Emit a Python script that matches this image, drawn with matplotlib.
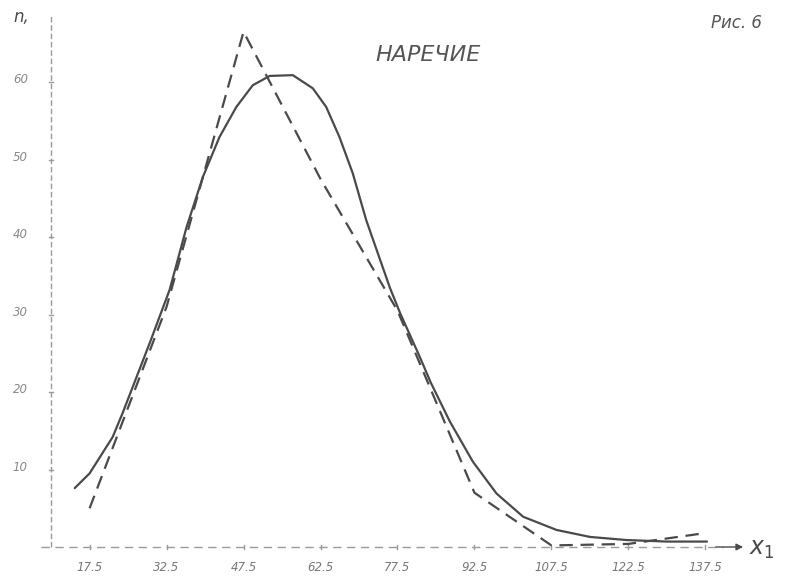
import numpy as np
import matplotlib.pyplot as plt

# theoretical (smooth) curve
curve_x = [14.6, 17.5, 22.0, 24.0, 29.2, 33.1, 36.4, 39.6, 42.8, 46.1, 49.3,
           52.6, 57.1, 61.0, 63.6, 66.2, 68.8, 71.4, 76.0, 78.0, 81.8, 84.0,
           87.7, 92.2, 96.8, 102.0, 108.5, 115.0, 122.1, 130.0, 137.8]
curve_n = [7.6, 9.5, 14.2, 17.4, 26.3, 33.2, 41.3, 47.8, 52.9, 56.8, 59.6,
           60.8, 60.9, 59.2, 56.8, 52.9, 48.2, 42.2, 33.5, 30.2, 24.6, 21.2,
           16.2, 11.0, 6.9, 3.9, 2.2, 1.3, 0.9, 0.7, 0.7]

# empirical polygon (dashed)
mids = [17.5, 32.5, 47.5, 62.5, 77.5, 92.5, 107.5, 122.5, 137.5]
freq = [5, 31, 66.5, 47.5, 30.5, 7, 0.2, 0.4, 1.8]

xtick_labels = ["17.5", "32.5", "47.5", "62.5", "77.5", "92.5", "107.5", "122.5", "137.5"]
yticks = [10, 20, 30, 40, 50, 60]

ink = "#4a4a4a"
faint = "#9a9a9a"

fig = plt.figure(figsize=(7.88, 5.80), dpi=100)
ax = fig.add_axes([0, 0, 1, 1])
ax.set_xlim(0.04, 153.6)
ax.set_ylim(-4.26, 70.6)
ax.axis("off")

# axes drawn by hand: faint dashed lines
ax.plot([9.9, 9.9], [0, 68.6], color=faint, lw=1.0, ls=(0, (4, 2)))
ax.plot([8.1, 141], [0, 0], color=faint, lw=1.0, ls=(0, (6, 4)))
ax.annotate("", xy=(145.4, 0), xytext=(139, 0),
            arrowprops=dict(arrowstyle="-|>", color=ink, lw=1.0,
                            mutation_scale=10))

for m in mids:
    ax.plot([m, m], [-0.3, 0.3], color=faint, lw=1.0)
for t in yticks:
    ax.plot([9.5, 10.3], [t, t], color=faint, lw=1.0)

ax.plot(curve_x, curve_n, color=ink, lw=1.6, solid_capstyle="round",
        solid_joinstyle="round")
ax.plot(mids, freq, color=ink, lw=1.6, ls=(0, (6, 3.5)))

for m, lab in zip(mids, xtick_labels):
    ax.text(m, -2.6, lab, ha="center", va="center", fontsize=8.5,
            style="italic", color="#777777")
for t in yticks:
    ax.text(4.0, t + 0.3, str(t), ha="center", va="center", fontsize=8.5,
            style="italic", color="#888888")

ax.text(4.2, 68.4, "n,", ha="center", va="center", fontsize=12,
        style="italic", color=ink)
ax.text(148.5, -0.2, "$x_1$", ha="center", va="center", fontsize=17,
        color=ink)
ax.text(83.4, 63.5, "НАРЕЧИЕ", ha="center", va="center", fontsize=16,
        style="italic", color="#555555", fontweight="light")
ax.text(143.5, 67.6, "Рис. 6", ha="center", va="center", fontsize=12,
        style="italic", color="#555555")

fig.savefig("out.png", dpi=100)
